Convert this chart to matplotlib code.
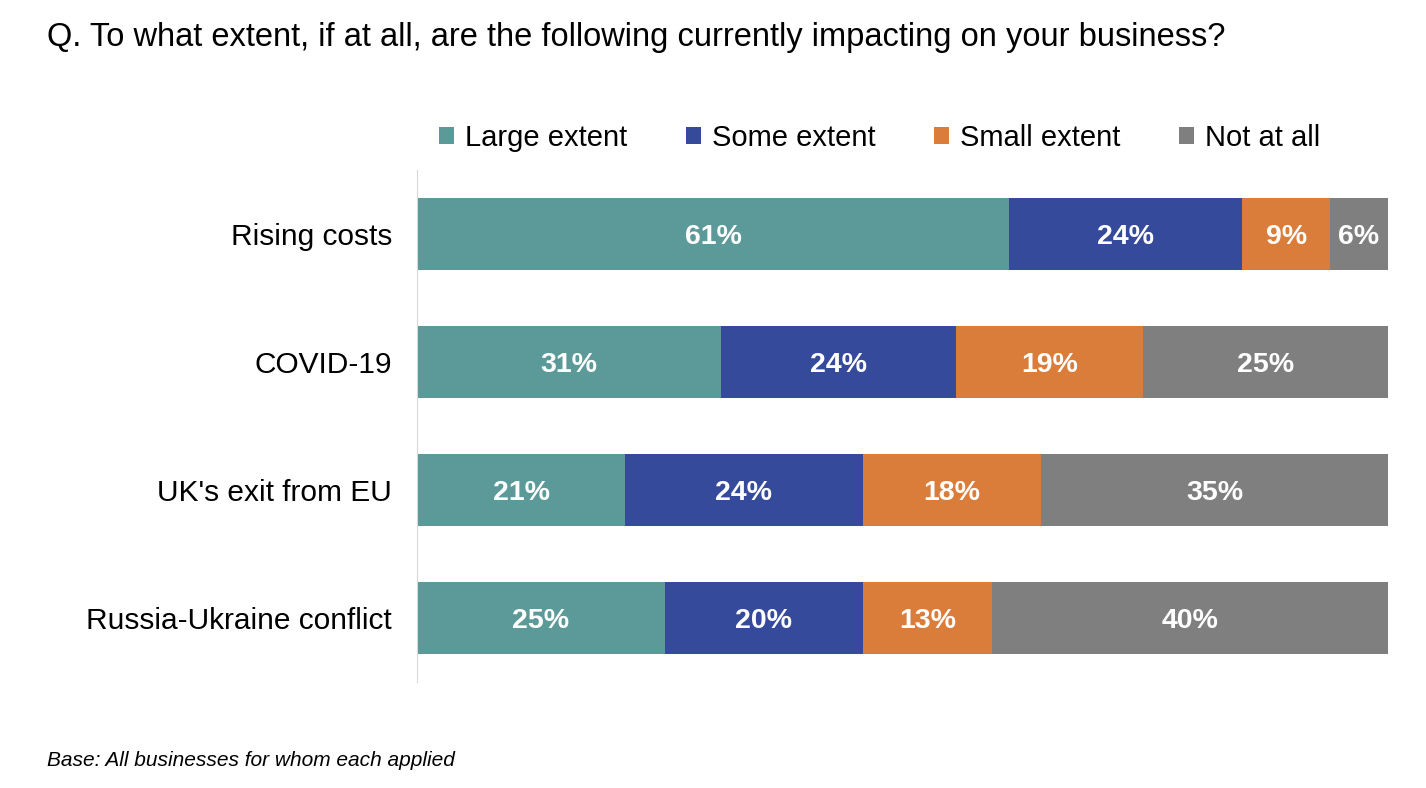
import matplotlib.pyplot as plt
import numpy as np

plt.rcParams['font.family'] = ['Liberation Sans', 'DejaVu Sans']

categories = ["Rising costs", "COVID-19", "UK's exit from EU", "Russia-Ukraine conflict"]
series = ["Large extent", "Some extent", "Small extent", "Not at all"]
large = [61, 31, 21, 25]
some = [24, 24, 24, 20]
small = [9, 19, 18, 13]
not_at_all = [6, 25, 35, 40]
colors = ["#5B9A99", "#354A9A", "#DA7C3A", "#7F7F7F"]

values = np.array([large, some, small, not_at_all], dtype=float)
totals = values.sum(axis=0)
shares = values / totals * 100

fig = plt.figure(figsize=(14.26, 7.88), dpi=100)
ax = fig.add_axes([0.2924, 0.1345, 0.681, 0.6495])

y = np.arange(len(categories))
left = np.zeros(len(categories))
for i, name in enumerate(series):
    ax.barh(y, shares[i], left=left, height=0.56, color=colors[i], label=name)
    for j in range(len(categories)):
        ax.text(left[j] + shares[i][j] / 2, y[j] + 0.02, f"{int(values[i][j])}%",
                ha="center", va="center", color="white", fontsize=20.5, fontweight="bold")
    left += shares[i]

ax.set_xlim(0, 100)
ax.set_ylim(3.5, -0.5)
ax.set_yticks(y)
ax.set_yticklabels(categories, fontsize=21.5)
ax.tick_params(axis="y", length=0, pad=18)
ax.set_xticks([])
for s in ["top", "right", "bottom"]:
    ax.spines[s].set_visible(False)
ax.spines["left"].set_color("#D9D9D9")

fig.legend(loc="center", bbox_to_anchor=(0.617, 0.825), ncol=4, frameon=False,
           fontsize=21, handlelength=0.5, handleheight=0.5, handletextpad=0.4,
           columnspacing=2.0)

fig.text(0.033, 0.953, "Q. To what extent, if at all, are the following currently impacting on your business?",
         fontsize=23.5, va="center")
fig.text(0.033, 0.035, "Base: All businesses for whom each applied", fontsize=15,
         style="italic", va="center")

fig.savefig("out.png", dpi=100)
